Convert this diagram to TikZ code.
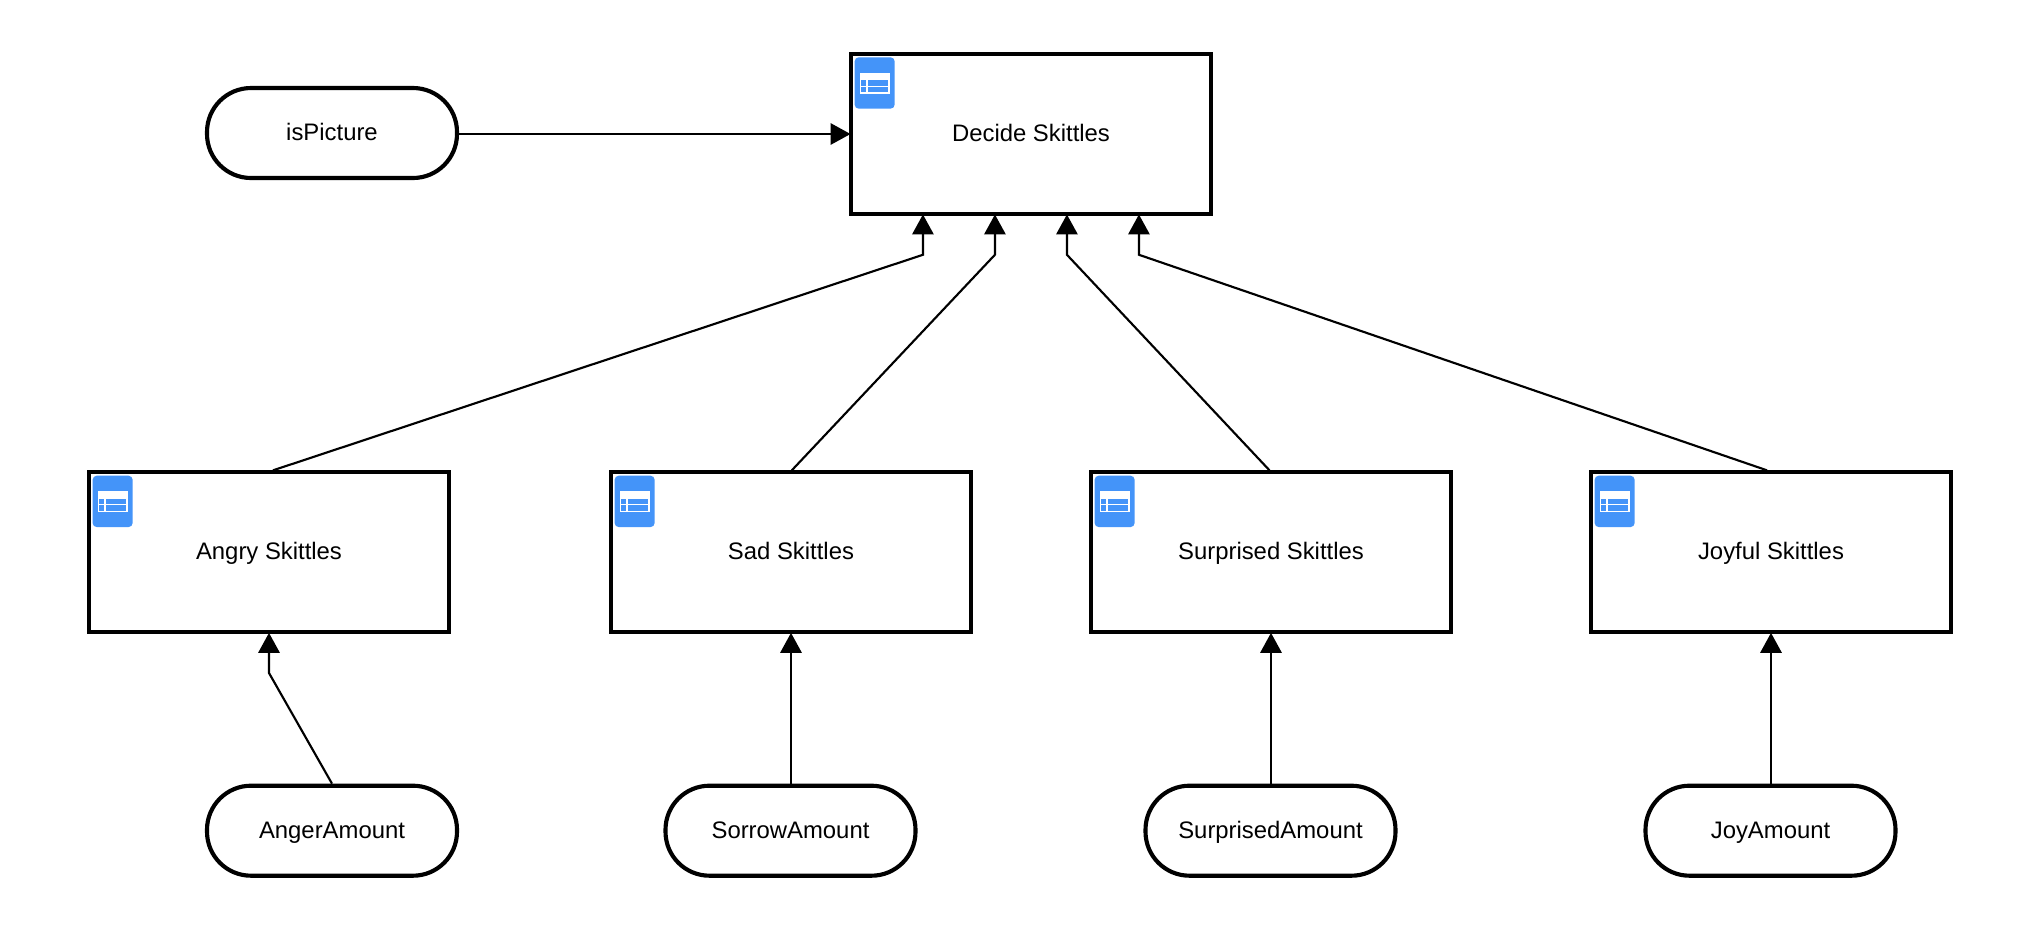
\documentclass[tikz,border=0pt]{standalone}
\usepackage{fontspec}
\setmainfont{Liberation Sans}
\usetikzlibrary{arrows.meta,calc}
\definecolor{iconblue}{HTML}{4494F9}
\tikzset{
  labeltext/.style={font=\fontsize{17.9}{20}\selectfont, text=black, text height=10.5pt, text depth=0pt, inner sep=0pt},
  tablebox/.style={labeltext, draw=black, fill=white, line width=3.1pt, minimum width=270pt, minimum height=120pt},
  pill/.style={labeltext, text height=12pt, draw=black, fill=white, line width=3.1pt, rounded corners=33pt, minimum width=187.5pt, minimum height=67.5pt},
  conn/.style={draw=black, line width=1.6pt, line join=miter, shorten >=-1.2pt, -{Triangle[length=15pt,width=16pt]}},
  tableicon/.pic={
    \fill[iconblue, rounded corners=3pt] (0,0) rectangle (40,51.3);
    \fill[white] (5,15.6) rectangle (35,36.3);
    \fill[iconblue] (6.7,23) rectangle (11.7,28.3);
    \fill[iconblue] (13.3,23) rectangle (33.3,28.3);
    \fill[iconblue] (6.7,29.6) rectangle (11.7,35);
    \fill[iconblue] (13.3,29.6) rectangle (33.3,35);
  }
}
\begin{document}
\begin{tikzpicture}[x=0.75pt,y=-0.75pt]
\useasboundingbox (0,0) rectangle (2032,940);
\node[tablebox] (decide) at (1031,134) {Decide Skittles};
\node[tablebox] (angry) at (269,552.4) {Angry Skittles};
\node[tablebox] (sad) at (791,552.4) {Sad Skittles};
\node[tablebox] (surprised) at (1271,552.4) {Surprised Skittles};
\node[tablebox] (joyful) at (1771,552.4) {Joyful Skittles};
\node[pill, text height=10.5pt] (ispicture) at (332,133) {isPicture};
\node[pill] (anger) at (332,830.7) {AngerAmount};
\node[pill] (sorrow) at (790.5,830.7) {SorrowAmount};
\node[pill] (surpamt) at (1270.5,830.7) {SurprisedAmount};
\node[pill] (joy) at (1770.5,830.7) {JoyAmount};
\foreach \n in {decide,angry,sad,surprised,joyful}
  \pic at ($(\n.north west)+(5.7,5.4)$) {tableicon};
\coordinate (t1) at ($(decide.south west)+(74,0)$);
\coordinate (t2) at ($(decide.south west)+(146,0)$);
\coordinate (t3) at ($(decide.south west)+(218,0)$);
\coordinate (t4) at ($(decide.south west)+(290,0)$);
\coordinate (b1) at ($(t1)+(0,38.7)$);
\coordinate (b2) at ($(t2)+(0,38.7)$);
\coordinate (b3) at ($(t3)+(0,38.7)$);
\coordinate (b4) at ($(t4)+(0,38.7)$);
\coordinate (b5) at ($(angry.south)+(0,38.5)$);
\coordinate (s1) at ($(angry.north)+(4,0)$);
\coordinate (s2) at ($(sad.north)+(0.8,0)$);
\coordinate (s3) at ($(surprised.north)+(-1.5,0)$);
\coordinate (s4) at ($(joyful.north)+(-4,0)$);
\draw[conn] (ispicture.east |- decide.west) -- (decide.west);
\draw[conn] (s1) -- (b1) -- (t1);
\draw[conn] (s2) -- (b2) -- (t2);
\draw[conn] (s3) -- (b3) -- (t3);
\draw[conn] (s4) -- (b4) -- (t4);
\draw[conn] (anger.north) -- (b5) -- (angry.south);
\draw[conn] (sad.south |- sorrow.north) -- (sad.south);
\draw[conn] (surprised.south |- surpamt.north) -- (surprised.south);
\draw[conn] (joyful.south |- joy.north) -- (joyful.south);
\end{tikzpicture}
\end{document}
